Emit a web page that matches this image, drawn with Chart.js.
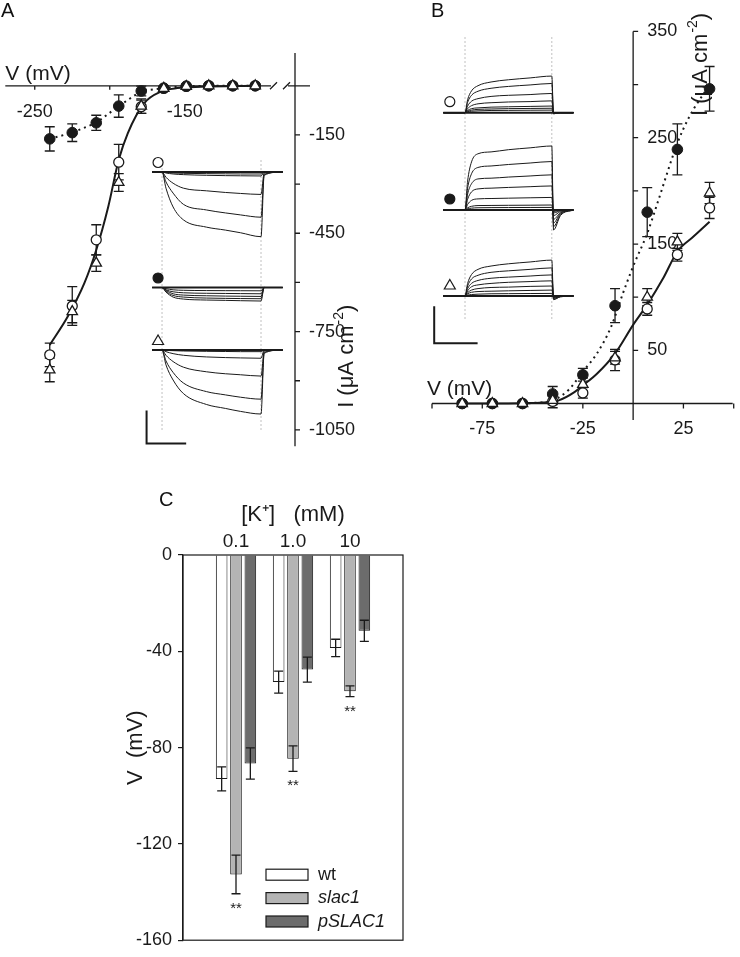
<!DOCTYPE html>
<html>
<head>
<meta charset="utf-8">
<script src="https://cdn.jsdelivr.net/npm/chart.js@4.4.1/dist/chart.umd.min.js"></script>
<style>
  body { margin: 0; background: #fff; }
  #page { position: relative; width: 740px; height: 957px; overflow: hidden; font-family: 'Liberation Sans', Arial, sans-serif; color: #111; }
  #page canvas { position: absolute; }
  .panel { position: absolute; font-size: 20px; line-height: 20px; }
</style>
</head>
<body>
<div id="page">
  <canvas id="ivA" width="370" height="470" style="left:0;top:0"></canvas>
  <canvas id="tracesA" width="150" height="305" style="left:140px;top:150px"></canvas>
  <canvas id="ivB" width="340" height="450" style="left:400px;top:0"></canvas>
  <canvas id="tracesB" width="160" height="330" style="left:425px;top:25px"></canvas>
  <canvas id="barsC" width="300" height="477" style="left:120px;top:480px"></canvas>
  <div class="panel" style="left:1px;top:0">A</div>
  <div class="panel" style="left:431px;top:0">B</div>
  <div class="panel" style="left:159px;top:489px">C</div>
</div>
<script>
const INK = '#1a1a1a';
const font = (size, style) => (style ? style + ' ' : '') + size + "px 'Liberation Sans', Arial, sans-serif";
Chart.defaults.font.family = "'Liberation Sans', Arial, sans-serif";
Chart.defaults.color = INK;

// ---- panel A: steady-state currents, hyperpolarising steps ----
const voltA = [-240, -225, -209, -194, -179, -164, -149, -134, -118, -103];
const iA_wt = [-821, -672, -470, -233, -64, -8, -2, 0, 0, 0];
const errA_wt = [36, 59, 46, 54, 20, 5, 3, 2, 2, 2];
const iA_slac1 = [-162, -143, -113, -62, -16, -7, -1, 0, 0, 0];
const errA_slac1 = [37, 27, 23, 34, 15, 5, 3, 2, 2, 2];
const iA_pSLAC1 = [-867, -689, -541, -295, -62, -8, -2, 0, 0, 0];
const errA_pSLAC1 = [36, 34, 25, 27, 22, 4, 2, 2, 2, 2];
const fitA_v = [-240, -228, -217, -209, -201, -194, -188, -177, -166, -155, -139, -103];
const fitA_i = [-791, -704, -603, -501, -369, -226, -145, -53, -18, -7, -3, 0];
const ticksVA = [-250, -200, -150, -100];
const labelsVA = [-250, -150];
const ticksIA = [-150, -300, -450, -600, -750, -900, -1050];
const labelsIA = [-150, -450, -750, -1050];

// panel A inset traces (time in s, current in uA)
const tA = [-0.25, 0, 0.1, 0.28, 0.54, 1.12, 1.6, 1.98, 2.5, 2.58, 3.05];
const tracesA_wt = [
  [0, 0, -4.9, -10.6, -14.5, -16.7, -17.6, -18.4, -19.6, -1.0, 0],
  [0, 0, -3.0, -6.4, -9.8, -11.5, -12.4, -13.0, -13.7, -0.7, 0],
  [0, 0, -1.6, -3.4, -4.9, -5.7, -6.2, -6.5, -6.8, -0.3, 0],
  [0, 0, -0.3, -0.6, -0.8, -1.0, -1.1, -1.15, -1.2, 0, 0],
  [0, 0, -0.1, -0.3, -0.4, -0.5, -0.55, -0.6, -0.6, 0, 0],
  [0, 0, 0, 0, 0, 0, 0, 0, 0, 0, 0]
];
const tracesA_slac1 = [
  [0, 0, -1.4, -2.9, -3.5, -3.8, -3.9, -4.0, -4.1, 0, 0],
  [0, 0, -1.2, -2.4, -2.9, -3.2, -3.3, -3.35, -3.4, 0, 0],
  [0, 0, -0.9, -1.9, -2.3, -2.5, -2.6, -2.65, -2.7, 0, 0],
  [0, 0, -0.7, -1.3, -1.6, -1.75, -1.8, -1.85, -1.9, 0, 0],
  [0, 0, -0.35, -0.7, -0.85, -0.93, -0.96, -0.98, -1.0, 0, 0],
  [0, 0, 0, 0, 0, 0, 0, 0, 0, 0, 0]
];
const tracesA_pSLAC1 = [
  [0, 0, -4.5, -9.1, -13.2, -16.5, -17.7, -18.6, -19.4, -1.0, 0],
  [0, 0, -3.3, -6.8, -10.0, -12.6, -13.6, -14.3, -14.9, -0.7, 0],
  [0, 0, -1.6, -3.5, -5.2, -6.6, -7.2, -7.5, -7.9, -0.3, 0],
  [0, 0, -0.5, -1.1, -1.6, -2.1, -2.3, -2.4, -2.5, 0, 0],
  [0, 0, -0.1, -0.2, -0.3, -0.4, -0.45, -0.5, -0.5, 0, 0],
  [0, 0, 0, 0, 0, 0, 0, 0, 0, 0, 0]
];

// ---- panel B: steady-state currents, depolarising steps ----
const voltB = [-85, -70, -55, -40, -25, -9, 7, 22, 38];
const iB_wt = [0, 0, 0, 2, 10, 41, 89, 140, 184];
const errB_wt = [1, 1, 1, 6, 5, 10, 6, 6, 10];
const iB_slac1 = [0, 0, 0, 9, 27, 92, 180, 239, 296];
const errB_slac1 = [1, 1, 1, 7, 6, 16, 23, 24, 21];
const iB_pSLAC1 = [0, 0, 0, 3, 18, 43, 100, 152, 198];
const errB_pSLAC1 = [1, 1, 1, 4, 6, 6, 8, 8, 10];
const fitB_v = [-85, -70, -55, -45, -37, -29, -25, -18, -9, 0, 7, 15, 22, 30, 38];
const fitB_i = [0, 0, 0.3, 1, 3, 11, 17, 28, 47, 74, 93, 118, 143, 157, 171];
const dotB_v = [-55, -50, -40, -32, -25, -18, -11, -5, 0, 7, 12, 18, 22, 28, 37];
const dotB_i = [0, 0.5, 3, 13, 30, 47, 72, 104, 129, 160, 188, 223, 245, 270, 297];
const ticksVB = [-100, -75, -25, 25, 50];
const labelsVB = [-75, -25, 25];
const ticksIB = [50, 100, 150, 200, 250, 300, 350];
const labelsIB = [50, 150, 250, 350];

// panel B inset traces (time in s, current in uA)
const tB = [-0.5, 0, 0.06, 0.15, 0.3, 0.6, 1.0, 1.5, 2.0, 2.04, 2.2, 2.5];
const tracesB_wt = [
  [0, 0, 3.5, 5.9, 7.3, 8.3, 8.9, 9.4, 9.9, -0.3, 0, 0],
  [0, 0, 2.8, 4.7, 5.8, 6.6, 7.1, 7.5, 7.9, -0.3, 0, 0],
  [0, 0, 1.8, 3.1, 3.8, 4.4, 4.7, 4.9, 5.2, -0.2, 0, 0],
  [0, 0, 1.1, 1.9, 2.4, 2.7, 2.9, 3.0, 3.2, -0.1, 0, 0],
  [0, 0, 0.6, 1.1, 1.3, 1.5, 1.6, 1.7, 1.8, 0, 0, 0],
  [0, 0, 0.4, 0.7, 0.9, 1.0, 1.1, 1.15, 1.2, 0, 0, 0],
  [0, 0, 0.25, 0.4, 0.5, 0.6, 0.63, 0.67, 0.7, 0, 0, 0],
  [0, 0, 0, 0, 0, 0, 0, 0, 0, 0, 0, 0]
];
const tracesB_slac1 = [
  [0, 0, 7.8, 13.0, 15.2, 15.7, 16.3, 16.8, 17.3, -5.4, -1.5, 0],
  [0, 0, 5.9, 9.8, 11.5, 11.9, 12.3, 12.7, 13.1, -4.5, -1.2, 0],
  [0, 0, 4.3, 7.1, 8.4, 8.6, 8.9, 9.2, 9.5, -3.5, -0.9, 0],
  [0, 0, 2.9, 4.9, 5.7, 5.9, 6.1, 6.3, 6.5, -2.5, -0.7, 0],
  [0, 0, 1.5, 2.6, 3.0, 3.1, 3.2, 3.3, 3.4, -1.5, -0.4, 0],
  [0, 0, 0.6, 1.0, 1.2, 1.23, 1.27, 1.3, 1.35, -0.8, -0.2, 0],
  [0, 0, 0.3, 0.5, 0.6, 0.64, 0.66, 0.68, 0.7, -0.4, -0.1, 0],
  [0, 0, 0, 0, 0, 0, 0, 0, 0, 0, 0, 0]
];
const tracesB_pSLAC1 = [
  [0, 0, 3.4, 5.8, 7.2, 8.1, 8.7, 9.2, 9.7, -1.0, -0.2, 0],
  [0, 0, 2.7, 4.6, 5.6, 6.4, 6.8, 7.2, 7.6, -0.8, -0.2, 0],
  [0, 0, 2.0, 3.4, 4.2, 4.8, 5.1, 5.4, 5.7, -0.6, -0.1, 0],
  [0, 0, 1.4, 2.5, 3.0, 3.4, 3.7, 3.9, 4.1, -0.4, -0.1, 0],
  [0, 0, 0.9, 1.6, 2.0, 2.3, 2.4, 2.6, 2.7, -0.3, 0, 0],
  [0, 0, 0.6, 1.0, 1.2, 1.3, 1.4, 1.5, 1.6, -0.2, 0, 0],
  [0, 0, 0.25, 0.4, 0.5, 0.6, 0.63, 0.67, 0.7, 0, 0, 0],
  [0, 0, 0, 0, 0, 0, 0, 0, 0, 0, 0, 0]
];

// ---- panel C: membrane voltage vs external K+ ----
const kPos = [0, 1, 2];
const kLabels = ['0.1', '1.0', '10'];
const vWt = [-93, -52.8, -38.6];
const errWt = [5, 4.6, 3.6];
const vSlac1 = [-132.7, -84.6, -56.6];
const errSlac1 = [8, 5.3, 2.2];
const vPSLAC1 = [-86.6, -47.6, -31.5];
const errPSLAC1 = [6.5, 5.2, 4.4];
const starsSlac1 = ['**', '**', '**'];

function xy(xs, ys) {
  return xs.map((x, i) => ({ x: x, y: ys[i] }));
}

function drawErrorBars(chart, cap) {
  const { ctx } = chart;
  ctx.save();
  ctx.strokeStyle = INK;
  ctx.lineWidth = 1.3;
  chart.data.datasets.forEach((ds, di) => {
    if (!ds.errorBars) return;
    const meta = chart.getDatasetMeta(di);
    const yScale = chart.scales[meta.yAxisID];
    meta.data.forEach((el, i) => {
      const v = ds.data[i].y, e = ds.errorBars[i];
      const y1 = yScale.getPixelForValue(v + e), y2 = yScale.getPixelForValue(v - e);
      ctx.beginPath();
      ctx.moveTo(el.x, y1); ctx.lineTo(el.x, y2);
      ctx.moveTo(el.x - cap, y1); ctx.lineTo(el.x + cap, y1);
      ctx.moveTo(el.x - cap, y2); ctx.lineTo(el.x + cap, y2);
      ctx.stroke();
    });
  });
  ctx.restore();
}

const errorBarPlugin = {
  id: 'errorBars',
  beforeDatasetsDraw(chart, args, opts) { if (!opts.front) drawErrorBars(chart, opts.cap); },
  afterDatasetsDraw(chart, args, opts) { if (opts.front) drawErrorBars(chart, opts.cap); }
};

function drawCurrentTitle(ctx, cx, cy) {
  const main = 'I (\u03bcA cm', sup = '-2', close = ')';
  ctx.save();
  ctx.translate(cx, cy);
  ctx.rotate(-Math.PI / 2);
  ctx.fillStyle = INK;
  ctx.font = font(22);
  const w1 = ctx.measureText(main).width, w3 = ctx.measureText(close).width;
  ctx.font = font(14);
  const w2 = ctx.measureText(sup).width;
  const sx = -(w1 + w2 + w3 + 1) / 2;
  ctx.textAlign = 'left';
  ctx.textBaseline = 'middle';
  ctx.font = font(22);
  ctx.fillText(main, sx, 0);
  ctx.font = font(14);
  ctx.fillText(sup, sx + w1 + 1, -8);
  ctx.font = font(22);
  ctx.fillText(close, sx + w1 + w2 + 1, 0);
  ctx.restore();
}

const axesA = {
  id: 'axesA',
  beforeDatasetsDraw(chart) {
    const { ctx, chartArea: ca, scales: { x, y } } = chart;
    const y0 = y.getPixelForValue(0);
    const xr = ca.right;
    ctx.save();
    ctx.strokeStyle = INK;
    ctx.lineWidth = 1.3;
    ctx.beginPath();
    // voltage axis, broken just before the current axis
    ctx.moveTo(ca.left - 2, y0); ctx.lineTo(xr - 24, y0);
    ctx.moveTo(xr - 25, y0 + 3.5); ctx.lineTo(xr - 18, y0 - 3.5);
    ctx.moveTo(xr - 12, y0 + 3.5); ctx.lineTo(xr - 5, y0 - 3.5);
    ctx.moveTo(xr - 7, y0); ctx.lineTo(xr + 15, y0);
    ticksVA.forEach(v => { const px = x.getPixelForValue(v); ctx.moveTo(px, y0); ctx.lineTo(px, y0 + 4); });
    ctx.moveTo(xr, ca.top); ctx.lineTo(xr, ca.bottom);
    ticksIA.forEach(v => { const py = y.getPixelForValue(v); ctx.moveTo(xr, py); ctx.lineTo(xr + 5, py); });
    ctx.stroke();
    ctx.fillStyle = INK;
    ctx.font = font(18);
    ctx.textAlign = 'center';
    ctx.textBaseline = 'middle';
    labelsVA.forEach(v => ctx.fillText(String(v), x.getPixelForValue(v), y0 + 26));
    ctx.textAlign = 'left';
    labelsIA.forEach(v => ctx.fillText(String(v), xr + 14, y.getPixelForValue(v)));
    ctx.font = font(21);
    ctx.textBaseline = 'alphabetic';
    ctx.fillText('V (mV)', ca.left - 2, y0 - 6);
    drawCurrentTitle(ctx, xr + 52, ca.bottom - 90);
    ctx.restore();
  }
};

const axesB = {
  id: 'axesB',
  beforeDatasetsDraw(chart) {
    const { ctx, chartArea: ca, scales: { x, y } } = chart;
    const y0 = y.getPixelForValue(0), x0 = x.getPixelForValue(0);
    ctx.save();
    ctx.strokeStyle = INK;
    ctx.lineWidth = 1.3;
    ctx.beginPath();
    ctx.moveTo(ca.left, y0); ctx.lineTo(ca.right, y0);
    ticksVB.forEach(v => { const px = x.getPixelForValue(v); ctx.moveTo(px, y0); ctx.lineTo(px, y0 + 5); });
    ctx.moveTo(x0, ca.top); ctx.lineTo(x0, ca.bottom);
    ticksIB.forEach(v => { const py = y.getPixelForValue(v); ctx.moveTo(x0, py); ctx.lineTo(x0 + 5, py); });
    ctx.stroke();
    ctx.fillStyle = INK;
    ctx.font = font(18);
    ctx.textAlign = 'center';
    ctx.textBaseline = 'middle';
    labelsVB.forEach(v => ctx.fillText(String(v), x.getPixelForValue(v), y0 + 26));
    ctx.textAlign = 'left';
    labelsIB.forEach(v => ctx.fillText(String(v), x0 + 14, y.getPixelForValue(v)));
    ctx.font = font(21);
    ctx.textBaseline = 'alphabetic';
    ctx.fillText('V (mV)', ca.left - 5, y0 - 8.5);
    drawCurrentTitle(ctx, x0 + 68, ca.top + 33);
    ctx.restore();
  }
};

// lower order is drawn on top: triangles over filled circles over open circles
function markerSets(wt, slac1, pSLAC1, errs) {
  return [
    { label: 'slac1', data: slac1, errorBars: errs[1], pointStyle: 'circle', pointRadius: 5.3,
      backgroundColor: INK, borderColor: INK, borderWidth: 1, order: 1 },
    { label: 'wt', data: wt, errorBars: errs[0], pointStyle: 'circle', pointRadius: 5,
      backgroundColor: '#fff', borderColor: INK, borderWidth: 1.3, order: 2 },
    { label: 'pSLAC1', data: pSLAC1, errorBars: errs[2], pointStyle: 'triangle', pointRadius: 6,
      backgroundColor: '#fff', borderColor: INK, borderWidth: 1.3, order: 0 }
  ];
}

const quiet = { legend: { display: false }, tooltip: { enabled: false } };

new Chart(document.getElementById('ivA'), {
  type: 'scatter',
  data: {
    datasets: markerSets(xy(voltA, iA_wt), xy(voltA, iA_slac1), xy(voltA, iA_pSLAC1),
      [errA_wt, errA_slac1, errA_pSLAC1]).concat([
      { label: 'fit', data: xy(fitA_v, fitA_i), showLine: true, pointRadius: 0, borderColor: INK,
        borderWidth: 2, cubicInterpolationMode: 'monotone', order: 5 },
      { label: 'slac1 line', data: xy(voltA, iA_slac1), showLine: true, pointRadius: 0, borderColor: INK,
        borderWidth: 2, borderDash: [2, 4], order: 6 }
    ])
  },
  options: {
    responsive: false, animation: false, events: [],
    layout: { padding: { left: 5, right: 75, top: 53, bottom: 23.7 } },
    plugins: Object.assign({ errorBars: { cap: 5 } }, quiet),
    scales: {
      x: { type: 'linear', display: false, min: -268.3, max: -76.5 },
      y: { type: 'linear', display: false, min: -1100, max: 100 }
    }
  },
  plugins: [axesA, errorBarPlugin]
});

new Chart(document.getElementById('ivB'), {
  type: 'scatter',
  data: {
    datasets: markerSets(xy(voltB, iB_wt), xy(voltB, iB_slac1), xy(voltB, iB_pSLAC1),
      [errB_wt, errB_slac1, errB_pSLAC1]).concat([
      { label: 'fit', data: xy(fitB_v, fitB_i), showLine: true, pointRadius: 0, borderColor: INK,
        borderWidth: 2, cubicInterpolationMode: 'monotone', order: 5 },
      { label: 'slac1 fit', data: xy(dotB_v, dotB_i), showLine: true, pointRadius: 0, borderColor: INK,
        borderWidth: 2, borderDash: [2, 4], cubicInterpolationMode: 'monotone', order: 6 }
    ])
  },
  options: {
    responsive: false, animation: false, events: [],
    layout: { padding: { left: 32, right: 3, top: 31.4, bottom: 30 } },
    plugins: Object.assign({ errorBars: { cap: 5 } }, quiet),
    scales: {
      x: { type: 'linear', display: false, min: -100, max: 49.5 },
      y: { type: 'linear', display: false, min: -15.5, max: 350 }
    }
  },
  plugins: [axesB, errorBarPlugin]
});

// inset current traces: three stacked groups, each on its own current scale
function band(basePx, topPx, heightPx, pxPerUnit) {
  const max = (basePx - topPx) / pxPerUnit;
  return { min: max - heightPx / pxPerUnit, max: max };
}

function traceSets(t, groups) {
  const sets = [];
  groups.forEach((g, gi) => {
    g.forEach(tr => sets.push({
      data: xy(t, tr), yAxisID: 'y' + (gi + 1), showLine: true, pointRadius: 0,
      borderColor: INK, borderWidth: tr.every(v => v === 0) ? 2 : 1,
      cubicInterpolationMode: 'monotone'
    }));
  });
  return sets;
}

function insetPlugin(o) {
  return {
    id: 'insetMarks',
    beforeDatasetsDraw(chart) {
      const { ctx, chartArea: ca, scales } = chart;
      ctx.save();
      ctx.strokeStyle = '#c0c0c0';
      ctx.lineWidth = 1;
      ctx.setLineDash([2, 2]);
      ctx.beginPath();
      o.pulse.forEach(t => {
        const px = scales.x.getPixelForValue(t);
        ctx.moveTo(px, ca.top + o.pulseTop); ctx.lineTo(px, ca.bottom - o.pulseBottom);
      });
      ctx.stroke();
      ctx.restore();
    },
    afterDatasetsDraw(chart) {
      const { ctx, scales } = chart;
      ctx.save();
      ctx.strokeStyle = INK;
      ctx.lineWidth = 1.2;
      o.markers.forEach((m, i) => {
        const px = scales.x.getPixelForValue(o.markerT);
        const py = scales['y' + (i + 1)].getPixelForValue(0) - o.markerLift;
        ctx.beginPath();
        if (m === 'triangle') {
          ctx.moveTo(px, py - 5.5); ctx.lineTo(px + 5.5, py + 4); ctx.lineTo(px - 5.5, py + 4); ctx.closePath();
        } else {
          ctx.arc(px, py, 5, 0, Math.PI * 2);
        }
        ctx.fillStyle = m === 'filled' ? INK : '#fff';
        ctx.fill();
        ctx.stroke();
      });
      // scale bar
      const sb = o.bar;
      const bx = scales.x.getPixelForValue(sb.t), by = scales.y3.getPixelForValue(sb.i);
      const bx2 = scales.x.getPixelForValue(sb.t + sb.dt), by2 = scales.y3.getPixelForValue(sb.i + sb.di);
      ctx.lineWidth = 2;
      ctx.beginPath();
      ctx.moveTo(bx, by2); ctx.lineTo(bx, by); ctx.lineTo(bx2, by);
      ctx.stroke();
      ctx.restore();
    }
  };
}

new Chart(document.getElementById('tracesA'), {
  type: 'scatter',
  data: { datasets: traceSets(tA, [tracesA_wt, tracesA_slac1, tracesA_pSLAC1]) },
  options: {
    responsive: false, animation: false, events: [],
    plugins: quiet,
    scales: {
      x: { type: 'linear', display: false, min: -0.556, max: 3.232 },
      y: { display: false },
      y1: Object.assign({ type: 'linear', display: false }, band(172, 150, 305, 3.3)),
      y2: Object.assign({ type: 'linear', display: false }, band(287.5, 150, 305, 3.3)),
      y3: Object.assign({ type: 'linear', display: false }, band(350, 150, 305, 3.3))
    }
  },
  plugins: [insetPlugin({
    pulse: [0, 2.5], pulseTop: 10, pulseBottom: 25,
    markers: ['open', 'filled', 'triangle'], markerT: -0.1, markerLift: 9.5,
    bar: { t: -0.39, i: -28.3, dt: 1, di: 10 }
  })]
});

new Chart(document.getElementById('tracesB'), {
  type: 'scatter',
  data: { datasets: traceSets(tB, [tracesB_wt, tracesB_slac1, tracesB_pSLAC1]) },
  options: {
    responsive: false, animation: false, events: [],
    plugins: quiet,
    scales: {
      x: { type: 'linear', display: false, min: -0.922, max: 2.765 },
      y: { display: false },
      y1: Object.assign({ type: 'linear', display: false }, band(112.7, 25, 330, 3.7)),
      y2: Object.assign({ type: 'linear', display: false }, band(210, 25, 330, 3.7)),
      y3: Object.assign({ type: 'linear', display: false }, band(296, 25, 330, 3.7))
    }
  },
  plugins: [insetPlugin({
    pulse: [0, 2.0], pulseTop: 12, pulseBottom: 35,
    markers: ['open', 'filled', 'triangle'], markerT: -0.35, markerLift: 11,
    bar: { t: -0.71, i: -12.8, dt: 1, di: 10 }
  })]
});

// panel C bars
const cExtras = {
  id: 'cExtras',
  afterDatasetsDraw(chart) {
    const { ctx, chartArea: ca, scales: { y } } = chart;
    ctx.save();
    ctx.strokeStyle = INK;
    ctx.lineWidth = 1.2;
    ctx.strokeRect(ca.left, ca.top, ca.right - ca.left, ca.bottom - ca.top);
    ctx.fillStyle = INK;
    ctx.font = font(15);
    ctx.textAlign = 'center';
    ctx.textBaseline = 'alphabetic';
    chart.getDatasetMeta(1).data.forEach((bar, i) => {
      if (!starsSlac1[i]) return;
      ctx.fillText(starsSlac1[i], bar.x, y.getPixelForValue(vSlac1[i] - errSlac1[i]) + 19);
    });
    chart.data.datasets.forEach((ds, i) => {
      const top = ca.bottom - 71 + i * 23.4;
      ctx.fillStyle = ds.backgroundColor;
      ctx.fillRect(ca.left + 83, top, 42, 11);
      ctx.strokeRect(ca.left + 83, top, 42, 11);
      ctx.fillStyle = INK;
      ctx.font = font(18, ds.italic ? 'italic' : '');
      ctx.textAlign = 'left';
      ctx.textBaseline = 'middle';
      ctx.fillText(ds.label, ca.left + 135, top + 5.5);
    });
    ctx.restore();
  }
};

new Chart(document.getElementById('barsC'), {
  type: 'bar',
  data: {
    datasets: [
      { label: 'wt', data: xy(kPos, vWt), errorBars: errWt, backgroundColor: '#ffffff' },
      { label: 'slac1', data: xy(kPos, vSlac1), errorBars: errSlac1, backgroundColor: '#b4b4b4', italic: true },
      { label: 'pSLAC1', data: xy(kPos, vPSLAC1), errorBars: errPSLAC1, backgroundColor: '#6c6c6c', italic: true }
    ]
  },
  options: {
    responsive: false, animation: false, events: [],
    datasets: { bar: { borderColor: INK, borderWidth: 1, categoryPercentage: 0.755, barPercentage: 0.81 } },
    layout: { padding: { left: 0, right: 17, top: 0, bottom: 8 } },
    plugins: Object.assign({ errorBars: { cap: 4.5, front: true } }, quiet),
    scales: {
      x: {
        type: 'linear', position: 'top', min: -0.93, max: 2.93, offset: false,
        grid: { display: false }, border: { display: false },
        afterBuildTicks: s => { s.ticks = kPos.map(v => ({ value: v })); },
        afterFit: s => { s.height = 75; },
        ticks: { callback: (v, i) => kLabels[i], font: { size: 19 }, padding: -6, maxRotation: 0 },
        title: { display: true, text: '[K\u207a]   (mM)', font: { size: 22 }, padding: { top: 22, bottom: 0 } }
      },
      y: {
        min: -160, max: 0,
        afterFit: s => { s.width = 63; },
        ticks: { stepSize: 40, font: { size: 18 }, padding: 6 },
        grid: { drawOnChartArea: false, tickLength: 5, color: INK, lineWidth: 1.2 },
        border: { color: INK, width: 1.2 },
        title: { display: true, text: 'V  (mV)', font: { size: 22 }, padding: { top: 3, bottom: 0 } }
      }
    }
  },
  plugins: [errorBarPlugin, cExtras]
});
</script>
</body>
</html>
